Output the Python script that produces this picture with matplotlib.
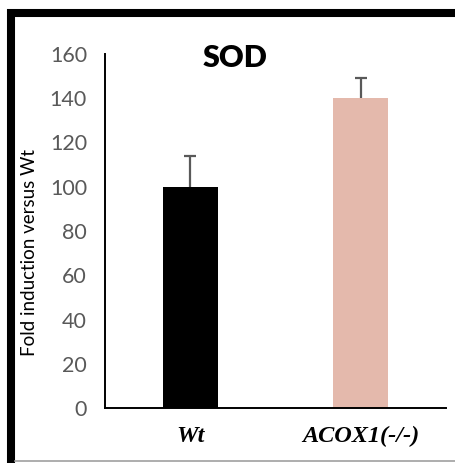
import matplotlib
matplotlib.use("Agg")
import matplotlib.pyplot as plt
from matplotlib.lines import Line2D
import numpy as np

# data
groups = ["Wt", "ACOX1(-/-)"]
values = [100, 140]
errors = [14, 9]
bar_colors = ["#000000", "#e4b9ac"]
y_ticks = [0, 20, 40, 60, 80, 100, 120, 140, 160]

W, H = 456, 463
fig = plt.figure(figsize=(W / 100, H / 100), dpi=100)


def fx(px):
    return px / W


def fy(py):
    return 1 - py / H


ax = fig.add_axes([fx(105), fy(408), fx(446) - fx(105), fy(54) - fy(408)])

x = np.arange(len(groups))
tops = np.array(values) + np.array(errors)
ax.bar(x, values, width=0.32, color=bar_colors, zorder=2)
# upper error bars only
ax.vlines(x, values, tops, color="#595959", linewidth=1.6, zorder=3)
ax.hlines(tops, x - 0.035, x + 0.035, color="#595959", linewidth=1.6, zorder=3)

ax.set_xlim(-0.5, 1.5)
ax.set_ylim(0, 160)
ax.set_yticks(y_ticks)
ax.set_xticks(x)
ax.set_xticklabels(groups, family="Liberation Serif", fontweight="bold",
                   fontstyle="italic", fontsize=17.5)
ax.tick_params(axis="y", length=0, pad=13, labelsize=15.5, labelcolor="#595959")
ax.tick_params(axis="x", length=0, pad=13)
for lab in ax.get_yticklabels():
    lab.set_family("Lato")

for s in ["top", "right"]:
    ax.spines[s].set_visible(False)
ax.spines["left"].set_linewidth(1.4)
ax.spines["bottom"].set_linewidth(1.4)

fig.text(fx(30), fy(253), "Fold induction versus Wt", family="Lato",
         fontsize=13.5, rotation=90, ha="center", va="center")

fig.text(fx(235), fy(58), "SOD", family="Lato", fontweight="heavy",
         fontsize=22, ha="center", va="center")

# outer frame: thick black top/left, thin grey bottom
fig.add_artist(Line2D([fx(7), 1], [fy(13), fy(13)], color="black",
                      linewidth=5.8, transform=fig.transFigure,
                      solid_capstyle="butt"))
fig.add_artist(Line2D([fx(11), fx(11)], [fy(9), 0], color="black",
                      linewidth=5.8, transform=fig.transFigure,
                      solid_capstyle="butt"))
fig.add_artist(Line2D([fx(15), 1], [fy(461), fy(461)], color="#a0a0a0",
                      linewidth=1.2, transform=fig.transFigure))

fig.savefig("out.png", dpi=100)
